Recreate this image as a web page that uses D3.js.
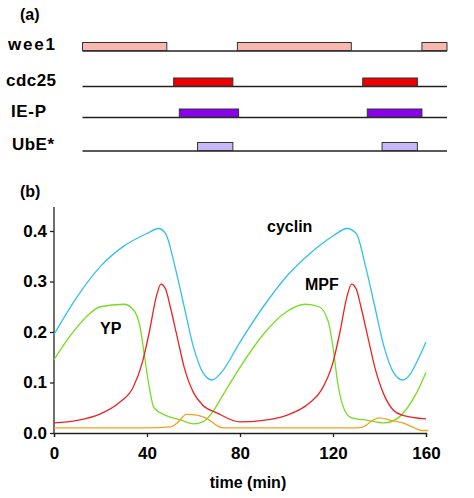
<!DOCTYPE html><html><head><meta charset="utf-8">
<script src="https://cdn.jsdelivr.net/npm/d3@7"></script>
<style>body{margin:0;background:#fff}text{font-family:Arial,"Liberation Sans",sans-serif;font-weight:bold}</style></head><body>
<svg id="c" width="474" height="498"></svg>
<script>
const rows=["wee1","cdc25","IE-P","UbE*"];
const rowColors=["#f8b8b0","#ee0000","#8800ee","#c8b8f8"];
const rowBars=[[[0,37],[68,118],[149,160]],[[40,66],[123,147]],[[42.5,68.5],[125,149]],[[50.5,66],[131.5,147]]];
const cyclin=[[0,.195],[10,.27],[20,.33],[30,.37],[40,.395],[45,.405],[48,.395],[52,.33],[56,.25],[60,.17],[64,.12],[68,.105],[72,.12],[80,.18],[90,.25],[100,.31],[110,.355],[120,.39],[126,.405],[130,.395],[134,.33],[138,.25],[142,.17],[146,.12],[150,.105],[153,.115],[156,.14],[160,.18]];
const yp=[[0,.145],[5,.18],[10,.21],[15,.235],[20,.25],[30,.255],[34,.245],[37,.21],[39,.15],[41,.09],[43,.05],[48,.035],[55,.025],[60,.018],[64,.022],[68,.04],[72,.07],[80,.13],[90,.195],[100,.24],[108,.255],[114,.25],[118,.22],[120,.17],[122,.1],[125,.045],[128,.03],[135,.025],[142,.02],[148,.03],[152,.05],[156,.08],[160,.12]];
const mpf=[[0,.02],[10,.025],[20,.038],[28,.06],[34,.09],[38,.14],[41,.2],[44,.27],[46,.295],[48,.285],[50,.25],[53,.19],[56,.13],[60,.08],[64,.055],[70,.04],[80,.022],[90,.025],[100,.035],[110,.06],[115,.085],[120,.14],[123,.2],[126,.27],[128,.295],[130,.285],[132,.25],[135,.19],[138,.13],[142,.075],[146,.045],[150,.035],[160,.028]];
const ie=[[0,.01],[40,.01],[50,.012],[53,.02],[57,.037],[62,.035],[66,.028],[70,.015],[73,.01],[130,.01],[133,.012],[137,.025],[140,.03],[145,.025],[150,.02],[155,.01],[158,.005],[161,.005]];
const xTicks=[0,40,80,120,160], yTicks=[0,.1,.2,.3,.4];
const svg=d3.select("#c");
const xa=d3.scaleLinear().domain([0,160]).range([82.5,447]);
const baseY=[51,86.5,117.5,151];
svg.append("text").attr("x",20).attr("y",20).attr("font-size",16).text("(a)");
rows.forEach((r,i)=>{
 svg.append("text").attr("x",i==0?8:i==2?11:i==3?12:6).attr("y",baseY[i]-1).attr("font-size",17).attr("textLength",i==0?47:i==1?50:i==2?35:42).text(r);
 svg.append("line").attr("x1",xa(0)).attr("x2",xa(160)).attr("y1",baseY[i]).attr("y2",baseY[i]).attr("stroke","#222").attr("stroke-width",1.3);
 rowBars[i].forEach(b=>svg.append("rect").attr("x",xa(b[0])).attr("width",xa(b[1])-xa(b[0])).attr("y",baseY[i]-8.5).attr("height",8).attr("fill",rowColors[i]).attr("stroke","#333").attr("stroke-width",1));
});
const x=d3.scaleLinear().domain([0,160]).range([54,426]);
const y=d3.scaleLinear().domain([0,.4]).range([433,231]);
svg.append("text").attr("x",20).attr("y",197).attr("font-size",16).text("(b)");
const gx=svg.append("g").attr("transform","translate(0,433)").call(d3.axisBottom(x).tickValues(xTicks).tickSize(4).tickFormat(d3.format("d")));
const gy=svg.append("g").attr("transform","translate(54,0)").call(d3.axisLeft(y).tickValues(yTicks).tickSize(4).tickFormat(d3.format(".1f")));
gy.select(".domain").attr("d","M0,433V207");
[gx,gy].forEach(g=>{g.selectAll("text").attr("font-size",17).attr("font-family","Arial").attr("font-weight","bold").attr("fill","#000");g.selectAll("line,path").attr("stroke","#222").attr("stroke-width",1.3);});
gx.selectAll("text").attr("dy","1.1em");
const line=d3.line().x(d=>x(d[0])).y(d=>y(d[1])).curve(d3.curveMonotoneX);
[[cyclin,"#33c0e8"],[yp,"#77dd22"],[mpf,"#ee2222"],[ie,"#f5a020"]].forEach(([d,c])=>svg.append("path").attr("d",line(d)).attr("fill","none").attr("stroke",c).attr("stroke-width",1.3));
svg.append("text").attr("x",267).attr("y",232).attr("font-size",16).text("cyclin");
svg.append("text").attr("x",305).attr("y",290).attr("font-size",16).text("MPF");
svg.append("text").attr("x",100).attr("y",334).attr("font-size",16).text("YP");
svg.append("text").attr("x",248).attr("y",488).attr("font-size",16).attr("text-anchor","middle").text("time (min)");
</script></body></html>
